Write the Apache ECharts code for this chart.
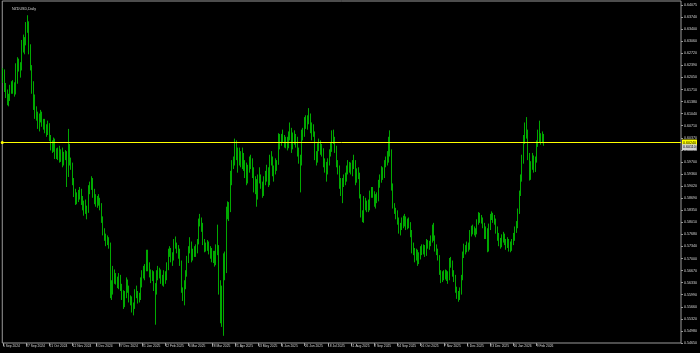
<!DOCTYPE html>
<html><head><meta charset="utf-8">
<script src="https://cdn.jsdelivr.net/npm/echarts@6/dist/echarts.min.js"></script>
<style>html,body{margin:0;padding:0;background:#000;}#c{width:700px;height:353px;}</style>
</head><body><div id="c"></div>
<script>
const chartTitle = 'NZDUSD,Daily';

// date labels, one every 16 bars
const xLabels = ['5 Sep 2024','27 Sep 2024','21 Oct 2024','12 Nov 2024','4 Dec 2024','27 Dec 2024',
  '21 Jan 2025','12 Feb 2025','6 Mar 2025','28 Mar 2025','21 Apr 2025','13 May 2025','4 Jun 2025',
  '26 Jun 2025','18 Jul 2025','11 Aug 2025','2 Sep 2025','24 Sep 2025','16 Oct 2025','7 Nov 2025',
  '1 Dec 2025','23 Dec 2025','16 Jan 2026','9 Feb 2026'];

// price scale labels, top to bottom
const yLabels = ['0.64075','0.63740','0.63400','0.63060','0.62720','0.62390','0.62050','0.61710',
  '0.61380','0.61040','0.60710','0.60370','0.60030','0.59700','0.59360','0.59020','0.58690','0.58350',
  '0.58010','0.57680','0.57340','0.57000','0.56670','0.56330','0.55990','0.55660','0.55320','0.54980','0.54650'];
const yLabelBottom = 0.54650;
const yLabelStep = 0.0033661;

// horizontal price line and current price tag
const hLineValue = 0.6024;
const hLineLabel = '0.60240';
const bidValue = 0.6011;
const bidLabel = '0.60110';

// daily OHLC in pips (price x 10000), 16 bars per row
const openPips = [
6205,6218,6175,6160,6138,6148,6172,6182,6170,6165,6195,6245,6232,6232,6300,6285,
6305,6348,6355,6285,6232,6168,6150,6100,6098,6068,6092,6102,6075,6078,6060,6052,
6072,6035,6010,6002,6028,5985,5995,5985,5992,5980,5965,5985,5990,5930,6012,5975,
5960,5915,5885,5868,5865,5880,5888,5862,5850,5848,5835,5832,5895,5900,5920,5880,
5865,5855,5865,5858,5848,5810,5772,5760,5748,5752,5740,5605,5620,5660,5645,5640,
5632,5648,5622,5595,5570,5600,5625,5620,5590,5585,5560,5570,5605,5600,5590,5590,
5630,5660,5665,5672,5712,5680,5658,5645,5650,5570,5610,5655,5662,5662,5640,5640,
5660,5645,5675,5718,5722,5700,5702,5745,5738,5725,5722,5690,5612,5590,5630,5655,
5695,5725,5742,5700,5720,5720,5725,5745,5805,5810,5790,5745,5728,5735,5740,5725,
5720,5705,5710,5690,5720,5730,5630,5560,5525,5700,5665,5830,5820,5840,5930,5960,
5968,6025,5990,5965,5985,5972,5985,5960,5960,5920,5950,5965,5965,5945,5895,5915,
5880,5925,5922,5905,5882,5920,5925,5950,5912,5980,5975,5940,5942,5958,5965,6042,
6020,6035,6040,6020,6030,6015,6040,6055,6012,6040,6030,6035,6000,5975,5965,6045,
6050,6085,6075,6090,6095,6062,6065,6050,5985,5978,6010,6025,6015,6000,5965,5962,
5940,5968,5995,6005,6048,6030,6010,5965,5950,5910,5890,5915,5920,5925,5945,5960,
5955,5950,5962,5965,5920,5940,5935,5875,5825,5810,5865,5845,5855,5840,5880,5890,
5880,5858,5865,5870,5905,5920,5945,5935,5965,5975,5990,6030,5995,5900,5845,5830,
5825,5810,5775,5790,5805,5800,5810,5790,5800,5795,5770,5735,5720,5705,5720,5690,
5705,5720,5725,5730,5715,5745,5735,5740,5750,5785,5760,5730,5720,5705,5660,5645,
5650,5655,5655,5650,5645,5690,5690,5660,5650,5615,5600,5590,5610,5645,5710,5730,
5725,5735,5730,5770,5775,5780,5775,5775,5800,5820,5808,5810,5795,5765,5780,5725,
5790,5815,5820,5810,5805,5780,5760,5745,5740,5755,5760,5745,5740,5745,5735,5730,
5745,5760,5780,5790,5830,5880,5920,5975,6030,6055,6050,5990,5930,5960,5980,5950,
5975,6020,6045,6035,6030,6040];

const highPips = [
6232,6228,6190,6172,6160,6185,6195,6198,6192,6245,6262,6258,6248,6310,6325,6318,
6360,6379,6362,6298,6240,6195,6158,6125,6110,6105,6115,6110,6090,6090,6075,6085,
6078,6045,6030,6038,6035,6008,6010,6015,6005,6010,5998,6003,6000,6062,6020,5982,
5968,5925,5895,5885,5892,5900,5895,5875,5862,5865,5848,5905,5915,5930,5925,5895,
5880,5875,5880,5870,5855,5818,5785,5770,5765,5760,5745,5640,5680,5670,5660,5650,
5660,5655,5630,5612,5610,5648,5642,5625,5598,5595,5578,5615,5625,5610,5605,5648,
5668,5680,5685,5725,5725,5690,5670,5668,5665,5632,5668,5680,5675,5670,5655,5668,
5665,5690,5728,5735,5730,5718,5755,5762,5745,5738,5728,5695,5620,5640,5668,5708,
5735,5760,5748,5728,5735,5740,5755,5812,5825,5815,5800,5755,5745,5752,5748,5735,
5730,5722,5722,5740,5795,5738,5640,5625,5715,5720,5845,5860,5858,5945,5975,5985,
6035,6030,6010,6010,6000,6010,5995,5975,5968,5962,5985,5990,5980,5955,5930,5922,
5935,5955,5935,5915,5930,5945,5962,5955,5990,6000,5985,5960,5980,5975,6050,6048,
6048,6060,6045,6040,6040,6055,6080,6065,6052,6058,6048,6040,6010,5990,6060,6065,
6095,6100,6100,6120,6105,6080,6075,6055,6000,6022,6035,6030,6020,6008,5980,5970,
5980,6005,6025,6058,6060,6040,6015,5975,5960,5925,5925,5935,5940,5960,5975,5970,
5968,5975,5990,5975,5952,5955,5940,5880,5835,5875,5870,5862,5865,5890,5900,5900,
5888,5880,5885,5920,5935,5958,5955,5975,5985,6000,6040,6058,6005,5910,5855,5842,
5835,5815,5800,5815,5820,5825,5818,5812,5815,5802,5780,5745,5730,5728,5725,5718,
5735,5740,5740,5738,5755,5752,5750,5765,5795,5800,5765,5740,5728,5710,5668,5665,
5668,5670,5668,5665,5702,5705,5695,5668,5655,5622,5610,5620,5655,5720,5742,5738,
5748,5745,5780,5792,5795,5790,5785,5810,5830,5828,5822,5815,5800,5790,5785,5798,
5825,5832,5828,5822,5812,5790,5772,5758,5768,5775,5770,5755,5760,5755,5748,5755,
5772,5790,5805,5840,5890,5935,5990,6045,6080,6095,6060,5995,5972,5995,5988,5985,
6030,6060,6085,6050,6055,6048];

const lowPips = [
6190,6165,6148,6128,6125,6140,6160,6160,6152,6158,6188,6222,6205,6225,6275,6270,
6295,6330,6270,6225,6160,6115,6090,6085,6062,6055,6080,6068,6060,6050,6040,6045,
6028,6002,5995,5998,5978,5978,5975,5968,5970,5955,5960,5975,5900,5928,5960,5948,
5905,5872,5850,5852,5858,5865,5850,5835,5820,5825,5810,5828,5880,5892,5870,5852,
5845,5842,5848,5835,5800,5765,5750,5735,5738,5728,5590,5585,5600,5630,5628,5618,
5615,5610,5585,5560,5565,5590,5605,5578,5570,5550,5542,5560,5590,5575,5578,5585,
5620,5645,5640,5665,5665,5648,5632,5638,5610,5516,5600,5640,5645,5630,5625,5622,
5630,5640,5668,5705,5690,5680,5695,5728,5715,5700,5680,5605,5582,5570,5615,5650,
5688,5715,5690,5695,5705,5705,5715,5740,5790,5775,5738,5718,5720,5722,5712,5700,
5690,5688,5678,5682,5710,5600,5520,5510,5485,5640,5660,5810,5805,5830,5905,5950,
5960,5975,5940,5960,5955,5950,5945,5925,5905,5910,5940,5950,5925,5885,5880,5845,
5865,5910,5895,5870,5875,5905,5915,5900,5905,5960,5930,5915,5935,5945,5962,6005,
6015,6025,6010,6008,6002,6008,6030,5995,6005,6018,6010,5985,5965,5885,5960,6030,
6040,6062,6060,6075,6050,6030,6040,5975,5960,5968,6000,5990,5985,5955,5940,5915,
5935,5960,5985,5998,6020,5995,5955,5935,5895,5875,5855,5900,5905,5915,5935,5940,
5935,5930,5950,5905,5912,5922,5868,5815,5802,5800,5835,5830,5830,5835,5870,5870,
5845,5840,5855,5860,5898,5912,5920,5925,5955,5960,5968,5985,5890,5840,5825,5810,
5795,5770,5765,5780,5785,5790,5780,5782,5785,5760,5715,5710,5690,5695,5680,5685,
5698,5710,5712,5705,5708,5728,5725,5735,5745,5750,5720,5710,5695,5655,5632,5635,
5640,5642,5638,5630,5640,5675,5650,5635,5605,5588,5580,5585,5600,5640,5702,5712,
5718,5720,5725,5762,5768,5765,5760,5768,5795,5800,5798,5785,5755,5755,5718,5720,
5780,5808,5800,5795,5770,5750,5735,5728,5732,5745,5738,5725,5730,5720,5718,5722,
5738,5750,5772,5785,5825,5875,5915,5965,6020,6035,5975,5918,5920,5948,5940,5942,
5968,6012,6025,6018,6022,6015];

const closePips = [
6218,6175,6160,6138,6148,6172,6182,6170,6165,6195,6245,6232,6232,6300,6285,6305,
6348,6355,6285,6232,6168,6150,6100,6098,6068,6092,6102,6075,6078,6060,6052,6072,
6035,6010,6002,6028,5985,5995,5985,5992,5980,5965,5985,5990,5930,6012,5975,5960,
5915,5885,5868,5865,5880,5888,5862,5850,5848,5835,5832,5895,5900,5920,5880,5865,
5855,5865,5858,5848,5810,5772,5760,5748,5752,5740,5605,5620,5660,5645,5640,5632,
5648,5622,5595,5570,5600,5625,5620,5590,5585,5560,5570,5605,5600,5590,5590,5630,
5660,5665,5672,5712,5680,5658,5645,5650,5645,5610,5655,5662,5662,5640,5640,5660,
5645,5675,5718,5722,5700,5702,5745,5738,5725,5722,5690,5612,5590,5630,5655,5695,
5725,5742,5700,5720,5720,5725,5745,5805,5810,5790,5745,5728,5735,5740,5725,5720,
5705,5710,5690,5720,5730,5630,5560,5525,5700,5665,5830,5820,5840,5930,5960,5968,
6025,5990,5965,5985,5972,5985,5960,5960,5920,5950,5965,5965,5945,5895,5915,5880,
5925,5922,5905,5882,5920,5925,5950,5912,5980,5975,5940,5942,5958,5965,6042,6020,
6035,6040,6020,6030,6015,6040,6055,6012,6040,6030,6035,6000,5975,5965,6045,6050,
6085,6075,6090,6095,6062,6065,6050,5985,5978,6010,6025,6015,6000,5965,5962,5940,
5968,5995,6005,6048,6030,6010,5965,5950,5910,5890,5915,5920,5925,5945,5960,5955,
5950,5962,5965,5920,5940,5935,5875,5825,5810,5865,5845,5855,5840,5880,5890,5880,
5858,5865,5870,5905,5920,5945,5935,5965,5975,5990,6030,5995,5900,5845,5830,5825,
5810,5775,5790,5805,5800,5810,5790,5800,5795,5770,5735,5720,5705,5720,5690,5705,
5720,5725,5730,5715,5745,5735,5740,5750,5785,5760,5730,5720,5705,5660,5645,5650,
5655,5655,5650,5645,5690,5690,5660,5650,5615,5600,5590,5610,5645,5710,5730,5725,
5735,5730,5770,5775,5780,5775,5775,5800,5820,5808,5810,5795,5765,5780,5725,5790,
5815,5820,5810,5805,5780,5760,5745,5740,5755,5760,5745,5740,5745,5735,5730,5745,
5760,5780,5790,5830,5880,5920,5975,6030,6055,6050,5990,5930,5960,5980,5950,5975,
6020,6045,6035,6030,6040,6024];

const barsPerLabel = 16;
const totalSlots = 468; // bar slots including the empty chart shift on the right
const PIP = 10000;

const categories = [];
for (let i = 0; i < totalSlots; i++) categories.push(String(i));
const candles = closePips.map((c, i) => [openPips[i] / PIP, c / PIP, lowPips[i] / PIP, highPips[i] / PIP]);

const yMax = yLabelBottom + 342 / 3586;
const showX = (i) => i % barsPerLabel === 0 && i < closePips.length;
const font = 'Liberation Sans';
const green = '#00d400';

const tagLabel = (text, bg) => ({show: true, position: 'end', formatter: text, color: '#000000',
  backgroundColor: bg, fontSize: 3.6, fontFamily: font, padding: [1, 1, 1, 1], distance: 1});

const chart = echarts.init(document.getElementById('c'), null, {renderer: 'canvas'});
chart.setOption({
  animation: false,
  backgroundColor: '#000000',
  title: {text: chartTitle, left: 7, top: 2,
    textStyle: {color: '#d8d8d8', fontSize: 3.6, fontWeight: 'normal', fontFamily: font}},
  grid: {left: 1, top: 1, width: 682, height: 342, show: true, borderColor: '#9a9a9a', borderWidth: 1,
    backgroundColor: '#000000'},
  xAxis: {
    type: 'category', data: categories, boundaryGap: true,
    axisLine: {show: false},
    axisTick: {show: true, interval: (i) => showX(i), alignWithLabel: true, length: 3,
      lineStyle: {color: '#9a9a9a', width: 1}},
    axisLabel: {show: true, interval: (i) => showX(i), align: 'left', margin: 2,
      formatter: (v, i) => xLabels[Math.round(i / barsPerLabel)] || '',
      color: '#d8d8d8', fontSize: 3.3, fontFamily: font},
    splitLine: {show: false}
  },
  yAxis: {
    type: 'value', position: 'right', min: yLabelBottom, max: yMax, interval: yLabelStep,
    axisLine: {show: false},
    axisTick: {show: true, length: 2, lineStyle: {color: '#9a9a9a'}},
    splitLine: {show: false},
    axisLabel: {show: true, showMaxLabel: false, margin: 3, color: '#d8d8d8', fontSize: 3.6, fontFamily: font,
      formatter: (v) => {
        const k = Math.round((v - yLabelBottom) / yLabelStep);
        if (k < 0 || k >= yLabels.length) return '';
        if (Math.abs(v - (yLabelBottom + k * yLabelStep)) > yLabelStep * 0.1) return '';
        return yLabels[yLabels.length - 1 - k];
      }}
  },
  series: [{
    type: 'candlestick', data: candles, barWidth: 0.6, clip: true,
    itemStyle: {color: green, color0: green, borderColor: green, borderColor0: green, borderWidth: 0.8},
    markLine: {
      silent: true, precision: 5, animation: false,
      symbol: ['circle', 'none'], symbolSize: 3,
      lineStyle: {color: '#ffff00', width: 1, type: 'solid'},
      itemStyle: {color: '#ffff00'},
      label: tagLabel(hLineLabel, '#ffff00'),
      data: [{yAxis: hLineValue}]
    }
  }, {
    type: 'line', data: [], silent: true,
    markLine: {
      silent: true, precision: 5, animation: false,
      symbol: ['none', 'none'],
      lineStyle: {color: 'rgba(0,0,0,0)', width: 0},
      label: tagLabel(bidLabel, '#d0d0d0'),
      data: [{yAxis: bidValue}]
    }
  }]
});
</script>
</body></html>
